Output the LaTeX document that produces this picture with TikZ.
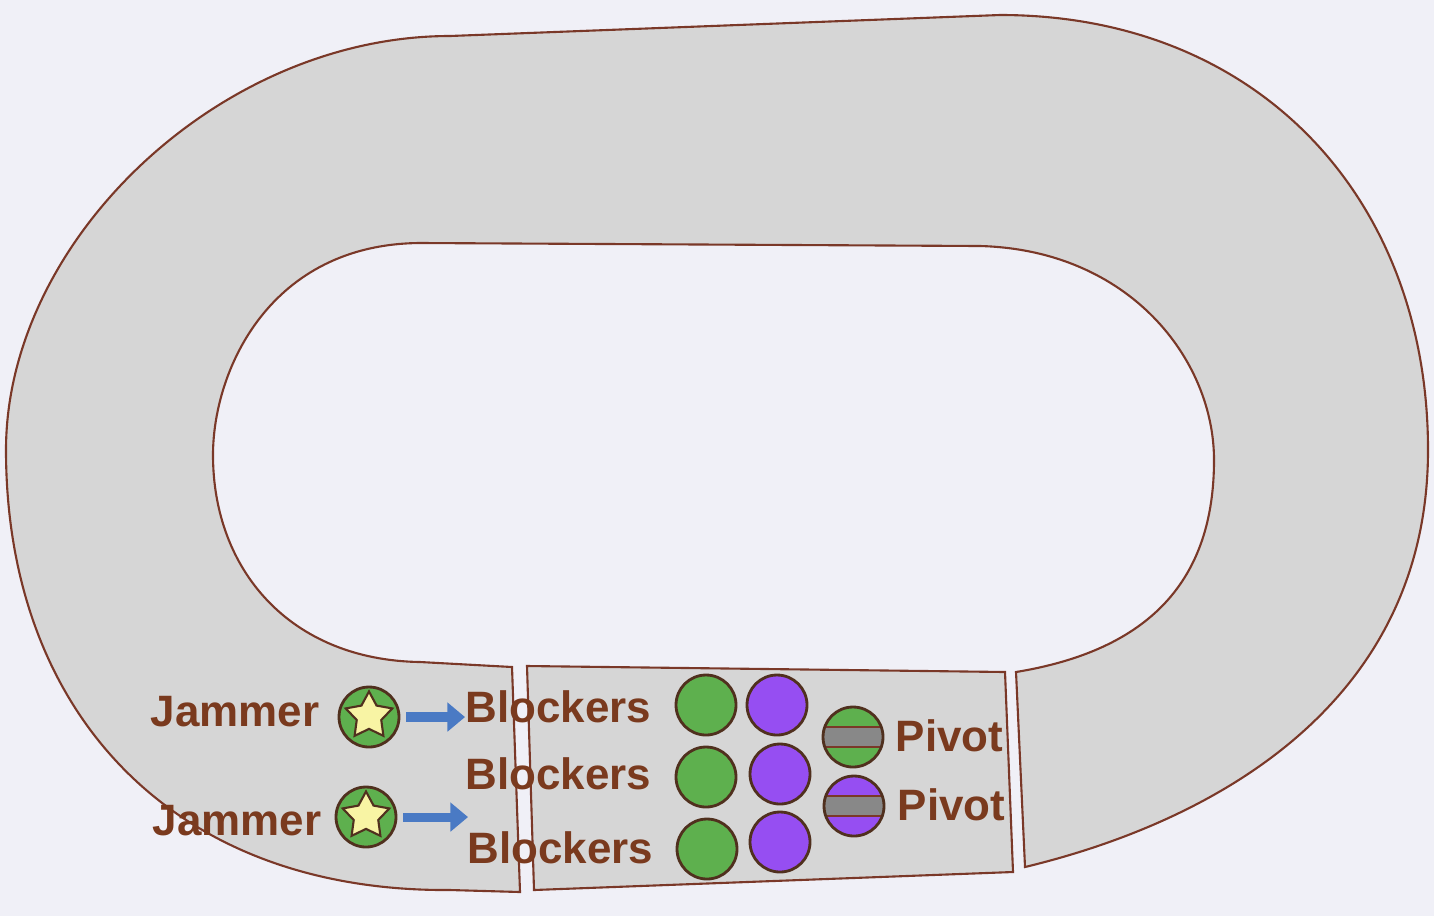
\documentclass[tikz,border=0pt]{standalone}
\usepackage{fontspec}
\setmainfont{Liberation Sans}
\usetikzlibrary{shapes.geometric,arrows.meta}
\definecolor{bgcol}{RGB}{240,240,247}
\definecolor{trackgray}{RGB}{214,214,214}
\definecolor{trackline}{RGB}{122,56,40}
\definecolor{lblbrown}{RGB}{122,58,30}
\definecolor{teamgreen}{RGB}{94,176,78}
\definecolor{teampurple}{RGB}{150,78,242}
\definecolor{bandgray}{RGB}{136,136,136}
\definecolor{arrowblue}{RGB}{74,122,196}
\definecolor{staryellow}{RGB}{248,244,164}
\definecolor{ringdark}{RGB}{80,48,30}

\begin{document}
\begin{tikzpicture}[scale=0.1]
\tikzstyle{every node}+=[inner sep=0pt]
\tikzstyle{lbl}=[anchor=west, text=lblbrown, font=\fontsize{12.5}{15}\selectfont\bfseries]
\tikzstyle{skater}=[circle, minimum size=6mm, draw=ringdark, line width=0.8pt]
\tikzstyle{jamstar}=[star, star points=5, star point ratio=1.9, minimum size=4.9mm, fill=staryellow, draw=ringdark, line width=0.6pt]
\tikzstyle{jamarrow}=[arrowblue, line width=2.6pt, shorten <=0.6mm, -{Triangle[length=5pt,width=8pt]}]
\tikzstyle{pivotband}=[path picture={
  \fill [bandgray] ([yshift=-2.85pt]path picture bounding box.west) rectangle ([yshift=2.85pt]path picture bounding box.east);
  \draw [trackline, line width=0.5pt] ([yshift=-2.85pt]path picture bounding box.west) -- ([yshift=-2.85pt]path picture bounding box.east)
    ([yshift=2.85pt]path picture bounding box.west) -- ([yshift=2.85pt]path picture bounding box.east);}]
\useasboundingbox (0,0) rectangle (143.4,-91.6);
\fill [bgcol] (0,0) rectangle (143.4,-91.6);
% track, one long piece round the oval
\draw [trackline, fill=trackgray, line width=0.6pt] (51.2,-66.7) -- (52.0,-89.2) -- (45,-89.0)
  .. controls (17,-89.2) and (0.6,-71) .. (0.6,-45)
  .. controls (0.6,-24) and (22,-3.6) .. (45,-3.6) -- (100,-1.5)
  .. controls (126,-1.5) and (142.8,-20) .. (142.8,-45)
  .. controls (142.8,-70) and (122,-82) .. (102.5,-86.7) -- (101.6,-67.2)
  .. controls (115,-65) and (121.4,-58) .. (121.4,-46)
  .. controls (121.4,-36) and (113,-25) .. (98,-24.6) -- (42,-24.3)
  .. controls (27,-24.4) and (21.3,-37) .. (21.3,-45.5)
  .. controls (21.3,-57) and (29,-66) .. (42,-66.2) -- cycle;
% pack zone
\draw [trackline, fill=trackgray, line width=0.6pt] (52.7,-66.6) -- (100.5,-67.2) -- (101.3,-87.2) -- (53.4,-89.0) -- cycle;
% jammers
\draw (15.0,-71.2) node [lbl] (jamA) {Jammer};
\draw (15.2,-82.1) node [lbl] (jamB) {Jammer};
\draw (36.9,-71.7) node [skater, fill=teamgreen] (jamAdot) {};
\draw (36.9,-71.6) node [jamstar] (jamAstar) {};
\draw (36.6,-81.7) node [skater, fill=teamgreen] (jamBdot) {};
\draw (36.6,-81.6) node [jamstar] (jamBstar) {};
% blockers
\draw (46.5,-70.7) node [lbl] (blkA) {Blockers};
\draw (46.5,-77.4) node [lbl] (blkB) {Blockers};
\draw (46.7,-84.8) node [lbl] (blkC) {Blockers};
\draw (70.6,-70.5) node [skater, fill=teamgreen] (grnA) {};
\draw (70.6,-77.7) node [skater, fill=teamgreen] (grnB) {};
\draw (70.7,-84.9) node [skater, fill=teamgreen] (grnC) {};
\draw (77.7,-70.5) node [skater, fill=teampurple] (purA) {};
\draw (78.0,-77.4) node [skater, fill=teampurple] (purB) {};
\draw (78.0,-84.2) node [skater, fill=teampurple] (purC) {};
% pivots
\draw (85.3,-73.7) node [skater, fill=teamgreen, pivotband] (pvtA) {};
\draw (85.4,-80.6) node [skater, fill=teampurple, pivotband] (pvtB) {};
\draw (89.5,-73.6) node [lbl] (pvtAtxt) {Pivot};
\draw (89.7,-80.5) node [lbl] (pvtBtxt) {Pivot};
% arrows
\coordinate (jamBto) at (46.8,-81.7);
\draw [jamarrow] (jamAdot.east) -- (jamAdot.center -| blkA.west);
\draw [jamarrow] (jamBdot.east) -- (jamBto);
\end{tikzpicture}
\end{document}
